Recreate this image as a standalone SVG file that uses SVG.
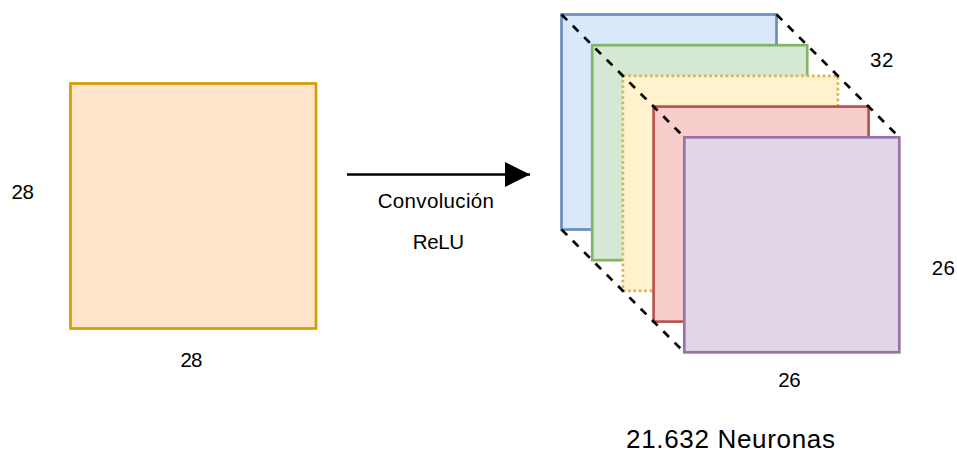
<svg xmlns="http://www.w3.org/2000/svg" width="957" height="452" viewBox="0 0 957 452">
  <style>
    .lbl { font-family: "Liberation Sans", Arial, Helvetica, sans-serif; font-size: 20.5px; fill: #000; }
    .big { font-size: 26px; }
    .sq { stroke-width: 2.7; }
    .guide { fill: none; stroke: #000; stroke-width: 2.7; stroke-dasharray: 8 8; }
    .flow { fill: none; stroke: #000; stroke-width: 2.7; }
  </style>
  <defs>
    <marker id="head" markerUnits="userSpaceOnUse" markerWidth="26" markerHeight="26" refX="25" refY="12.5" orient="auto">
      <path d="M0,0 L25,12.5 L0,25 Z" fill="#000"/>
    </marker>
  </defs>
  <rect width="957" height="452" fill="#fff"/>

  <!-- input image 28x28 -->
  <g id="input">
    <rect class="sq" x="70.5" y="83.5" width="245.5" height="245" fill="#ffe6cc" stroke="#d79b00"/>
  </g>
  <g id="input-height"><text class="lbl" x="11.5" y="199" textLength="22.5" lengthAdjust="spacing">28</text></g>
  <g id="input-width"><text class="lbl" x="180.5" y="366.5" textLength="22" lengthAdjust="spacing">28</text></g>

  <!-- stack of feature maps -->
  <g id="map-1"><rect class="sq" x="561.5" y="14.5" width="215" height="215" fill="#dae8fc" stroke="#6c8ebf"/></g>
  <g id="map-2"><rect class="sq" x="592.2" y="45.2" width="215" height="215" fill="#d5e8d4" stroke="#82b366"/></g>
  <g id="map-3"><rect class="sq" x="622.9" y="75.9" width="215" height="215" fill="#fff2cc" stroke="#d6b656" stroke-dasharray="2.7 2.7"/></g>
  <g id="map-4"><rect class="sq" x="653.6" y="106.6" width="215" height="215" fill="#f8cecc" stroke="#b85450"/></g>
  <g id="map-5"><rect class="sq" x="684.3" y="137.3" width="215" height="215" fill="#e1d5e7" stroke="#9673a6"/></g>

  <!-- connectors: depth guides and the operation arrow -->
  <g id="connectors">
    <line class="guide" x1="561.5" y1="14.5" x2="684.3" y2="137.3"/>
    <line class="guide" x1="776.5" y1="14.5" x2="899.3" y2="137.3"/>
    <line class="guide" x1="561.5" y1="229.5" x2="684.3" y2="352.3"/>
    <line class="flow" x1="347" y1="174.5" x2="530" y2="174.5" marker-end="url(#head)"/>
  </g>

  <g id="op-label">
    <text class="lbl" x="377.7" y="207.5" textLength="116.3" lengthAdjust="spacing">Convolución</text>
    <text class="lbl" x="412.7" y="249" textLength="51.3" lengthAdjust="spacing">ReLU</text>
  </g>

  <g id="depth-label"><text class="lbl" x="870" y="67" textLength="23.3" lengthAdjust="spacing">32</text></g>
  <g id="height-label"><text class="lbl" x="931.7" y="275" textLength="23.3" lengthAdjust="spacing">26</text></g>
  <g id="width-label"><text class="lbl" x="778.3" y="387" textLength="22.4" lengthAdjust="spacing">26</text></g>
  <g id="total-label"><text class="lbl big" x="626" y="447.5" textLength="209" lengthAdjust="spacing">21.632 Neuronas</text></g>
</svg>
